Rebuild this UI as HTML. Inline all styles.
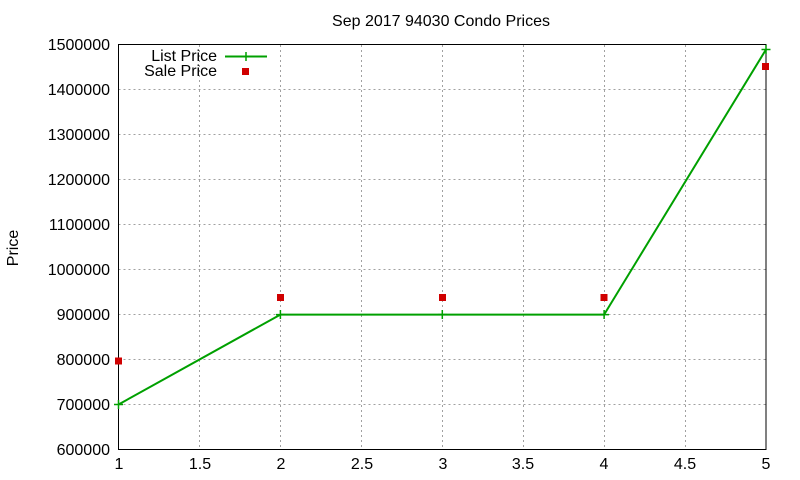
<!DOCTYPE html>
<html><head><style>body{margin:0;background:#fff}svg{display:block}text{font-family:"Liberation Sans",sans-serif;font-size:16px;fill:#000}</style></head>
<body>
<svg width="800" height="480" xmlns="http://www.w3.org/2000/svg">
<g stroke="#a0a0a0" stroke-dasharray="2,3" stroke-width="1">
<line x1="118.5" y1="404.5" x2="766" y2="404.5"/><line x1="118.5" y1="359.5" x2="766" y2="359.5"/><line x1="118.5" y1="314.5" x2="766" y2="314.5"/><line x1="118.5" y1="269.5" x2="766" y2="269.5"/><line x1="118.5" y1="224.5" x2="766" y2="224.5"/><line x1="118.5" y1="179.5" x2="766" y2="179.5"/><line x1="118.5" y1="134.5" x2="766" y2="134.5"/><line x1="118.5" y1="89.5" x2="766" y2="89.5"/>
<line x1="199.5" y1="45" x2="199.5" y2="449.5"/><line x1="280.5" y1="45" x2="280.5" y2="449.5"/><line x1="361.5" y1="45" x2="361.5" y2="449.5"/><line x1="442.5" y1="45" x2="442.5" y2="449.5"/><line x1="523.5" y1="45" x2="523.5" y2="449.5"/><line x1="604.5" y1="45" x2="604.5" y2="449.5"/><line x1="685.5" y1="45" x2="685.5" y2="449.5"/>
</g>
<rect x="118.5" y="44.5" width="647.5" height="405" fill="none" stroke="#000" stroke-width="1"/>
<g text-anchor="end">
<text x="110" y="455">600000</text><text x="110" y="410">700000</text><text x="110" y="365">800000</text><text x="110" y="320">900000</text><text x="110" y="275">1000000</text><text x="110" y="230">1100000</text><text x="110" y="185">1200000</text><text x="110" y="140">1300000</text><text x="110" y="95">1400000</text><text x="110" y="50">1500000</text>
</g>
<g text-anchor="middle">
<text x="119" y="469">1</text><text x="200" y="469">1.5</text><text x="281" y="469">2</text><text x="362" y="469">2.5</text><text x="443" y="469">3</text><text x="523" y="469">3.5</text><text x="604" y="469">4</text><text x="685" y="469">4.5</text><text x="766" y="469">5</text>
<text x="441" y="26">Sep 2017 94030 Condo Prices</text>
</g>
<text transform="translate(18,248) rotate(-90)" text-anchor="middle">Price</text>
<text x="217" y="61" text-anchor="end">List Price</text>
<text x="217" y="76" text-anchor="end">Sale Price</text>
<line x1="225" y1="56.5" x2="267" y2="56.5" stroke="#00a000" stroke-width="2"/>
<path d="M246 52v9M241.5 56.5h9" stroke="#00a000" stroke-width="1.5"/>
<rect x="242" y="68" width="7" height="7" fill="#d00000"/>
<polyline points="118.5,404.5 280.4,314.6 442.3,314.6 604.1,314.6 766,49.5" fill="none" stroke="#00a000" stroke-width="2"/>
<g stroke="#00a000" stroke-width="1.5">
<path d="M118.5 400v9M114 404.5h9M280.4 310v9M276 314.6h9M442.3 310v9M438 314.6h9M604.1 310v9M600 314.6h9M766 45v9M761.5 49.5h9"/>
</g>
<g fill="#d00000">
<rect x="115" y="357.5" width="7" height="7"/><rect x="277" y="294" width="7" height="7"/><rect x="439" y="294" width="7" height="7"/><rect x="600.5" y="294" width="7" height="7"/><rect x="762" y="63" width="7" height="7"/>
</g>
</svg>
</body></html>
